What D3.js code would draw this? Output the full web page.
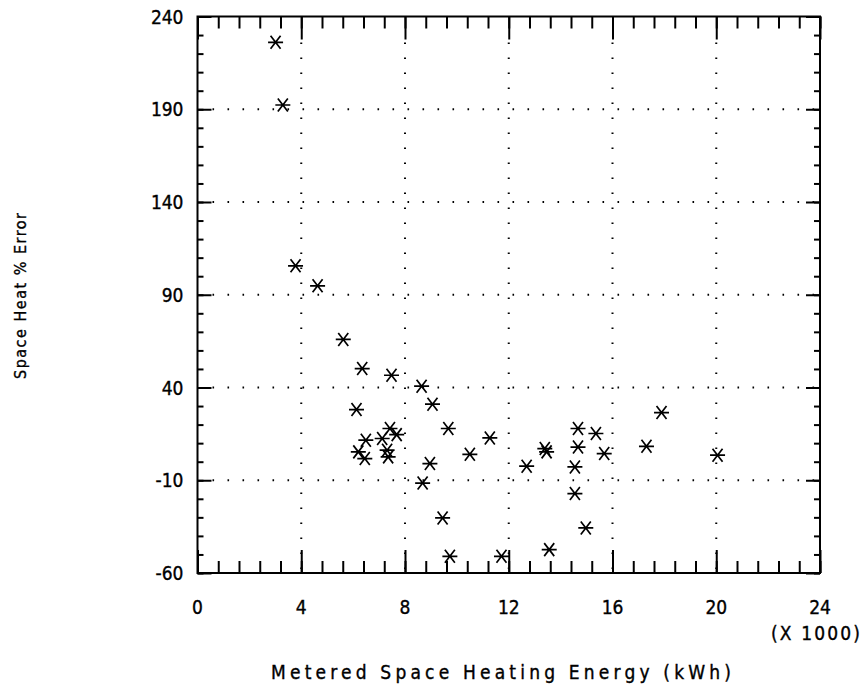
<!DOCTYPE html>
<html>
<head>
<meta charset="utf-8">
<script src="https://cdn.jsdelivr.net/npm/d3@7"></script>
<style>
  body { margin: 0; background: #fff; }
  text { font-family: "DejaVu Sans Condensed", "DejaVu Sans", sans-serif; fill: #000; stroke: #000; stroke-width: 0.35px; }
</style>
</head>
<body>
<svg id="chart" width="862" height="685"></svg>
<script>
// Metered energy (x 1000 kWh) and space heat % error
const energy = [3.01, 3.29, 3.78, 4.63, 5.62, 6.35, 7.48, 8.64, 9.06, 6.13,
                9.67, 7.42, 7.68, 7.12, 6.49, 11.27, 7.31, 6.2, 10.5, 7.35,
                6.45, 8.96, 8.68, 9.45, 9.73, 11.72, 12.69, 13.39, 13.46, 14.67,
                14.67, 14.55, 14.55, 14.97, 15.36, 15.68, 13.56, 17.31, 17.89, 20.05];
const pctError = [226.1, 192.3, 105.6, 94.8, 65.9, 50.2, 46.6, 40.7, 31.0, 28.1,
                  17.9, 17.9, 14.6, 12.5, 11.6, 12.8, 6.2, 5.3, 4.0, 2.6,
                  1.7, -1.0, -11.5, -30.3, -51.0, -51.0, -2.4, 7.1, 5.3, 17.9,
                  7.9, -2.8, -17.2, -35.7, 15.2, 4.4, -47.4, 8.3, 26.5, 3.5];

const xTicks = [0, 4, 8, 12, 16, 20, 24];
const yTicks = [-60, -10, 40, 90, 140, 190, 240];
const xMinor = d3.range(0, 24.01, 0.8);
const yMinor = d3.range(-60, 240.1, 10);

const xLabel = "Metered Space Heating Energy (kWh)";
const yLabel = "Space Heat % Error";
const xUnit = "(X 1000)";

const svg = d3.select("#chart");

const x = d3.scaleLinear().domain([0, 24]).range([197.5, 820]);
const y = d3.scaleLinear().domain([-60, 240]).range([573, 16.5]);

const pLeft = x(0), pRight = x(24), pTop = y(240), pBottom = y(-60);

// dotted grid
const grid = svg.append("g")
    .attr("stroke", "#000")
    .attr("stroke-width", 2)
    .attr("stroke-dasharray", "1.6,13.4");

grid.selectAll(".vgrid")
    .data(xTicks.slice(1, -1))
    .join("line")
    .attr("x1", d => x(d)).attr("x2", d => x(d))
    .attr("y1", pTop + 26).attr("y2", pBottom);

grid.selectAll(".hgrid")
    .data(yTicks.slice(1, -1))
    .join("line")
    .attr("y1", d => y(d)).attr("y2", d => y(d))
    .attr("x1", pLeft + 15).attr("x2", pRight);

// inward ticks on all four sides
function addAxis(axisFn, scale, values, size, transform) {
    svg.append("g")
        .attr("transform", transform)
        .call(axisFn(scale).tickValues(values).tickSize(-size).tickFormat(""))
        .call(g => g.select(".domain").remove())
        .call(g => g.selectAll("line").attr("stroke", "#000").attr("stroke-width", 2));
}

addAxis(d3.axisBottom, x, xMinor, 12, `translate(0,${pBottom})`);
addAxis(d3.axisBottom, x, xTicks, 23, `translate(0,${pBottom})`);
addAxis(d3.axisTop, x, xMinor, 12, `translate(0,${pTop})`);
addAxis(d3.axisTop, x, xTicks, 23, `translate(0,${pTop})`);
addAxis(d3.axisLeft, y, yMinor, 6, `translate(${pLeft},0)`);
addAxis(d3.axisLeft, y, yTicks, 14, `translate(${pLeft},0)`);
addAxis(d3.axisRight, y, yMinor, 6, `translate(${pRight},0)`);
addAxis(d3.axisRight, y, yTicks, 14, `translate(${pRight},0)`);

// frame
svg.append("rect")
    .attr("x", pLeft).attr("y", pTop)
    .attr("width", pRight - pLeft).attr("height", pBottom - pTop)
    .attr("fill", "none")
    .attr("stroke", "#000")
    .attr("stroke-width", 2);

// tick labels
svg.selectAll(".xlab")
    .data(xTicks)
    .join("text")
    .attr("x", d => x(d))
    .attr("y", pBottom + 41)
    .attr("text-anchor", "middle")
    .style("font-size", "19px")
    .text(d => d);

svg.selectAll(".ylab")
    .data(yTicks)
    .join("text")
    .attr("x", pLeft - 14)
    .attr("y", d => y(d) + 7)
    .attr("text-anchor", "end")
    .style("font-size", "19px")
    .text(d => d);

svg.append("text")
    .attr("x", 771)
    .attr("y", 640)
    .attr("textLength", 89)
    .attr("lengthAdjust", "spacing")
    .style("font-size", "19px")
    .text(xUnit);

svg.append("text")
    .attr("x", 271)
    .attr("y", 679)
    .attr("textLength", 460)
    .attr("lengthAdjust", "spacing")
    .style("font-size", "19px")
    .text(xLabel);

svg.append("text")
    .attr("transform", `translate(26,379) rotate(-90)`)
    .attr("textLength", 166)
    .attr("lengthAdjust", "spacing")
    .style("font-size", "16px")
    .text(yLabel);

// asterisk markers: horizontal bar plus an X
const pts = energy.map((e, i) => [x(e), y(pctError[i])]);
const mark = svg.append("g")
    .attr("stroke", "#000")
    .attr("stroke-width", 1.7)
    .attr("fill", "none");

mark.selectAll("path")
    .data(pts)
    .join("path")
    .attr("d", d => {
        const [cx, cy] = d;
        return `M${cx - 7.5},${cy}H${cx + 7.5}` +
               `M${cx - 5},${cy - 6.5}L${cx + 5},${cy + 6.5}` +
               `M${cx - 5},${cy + 6.5}L${cx + 5},${cy - 6.5}`;
    });
</script>
</body>
</html>
